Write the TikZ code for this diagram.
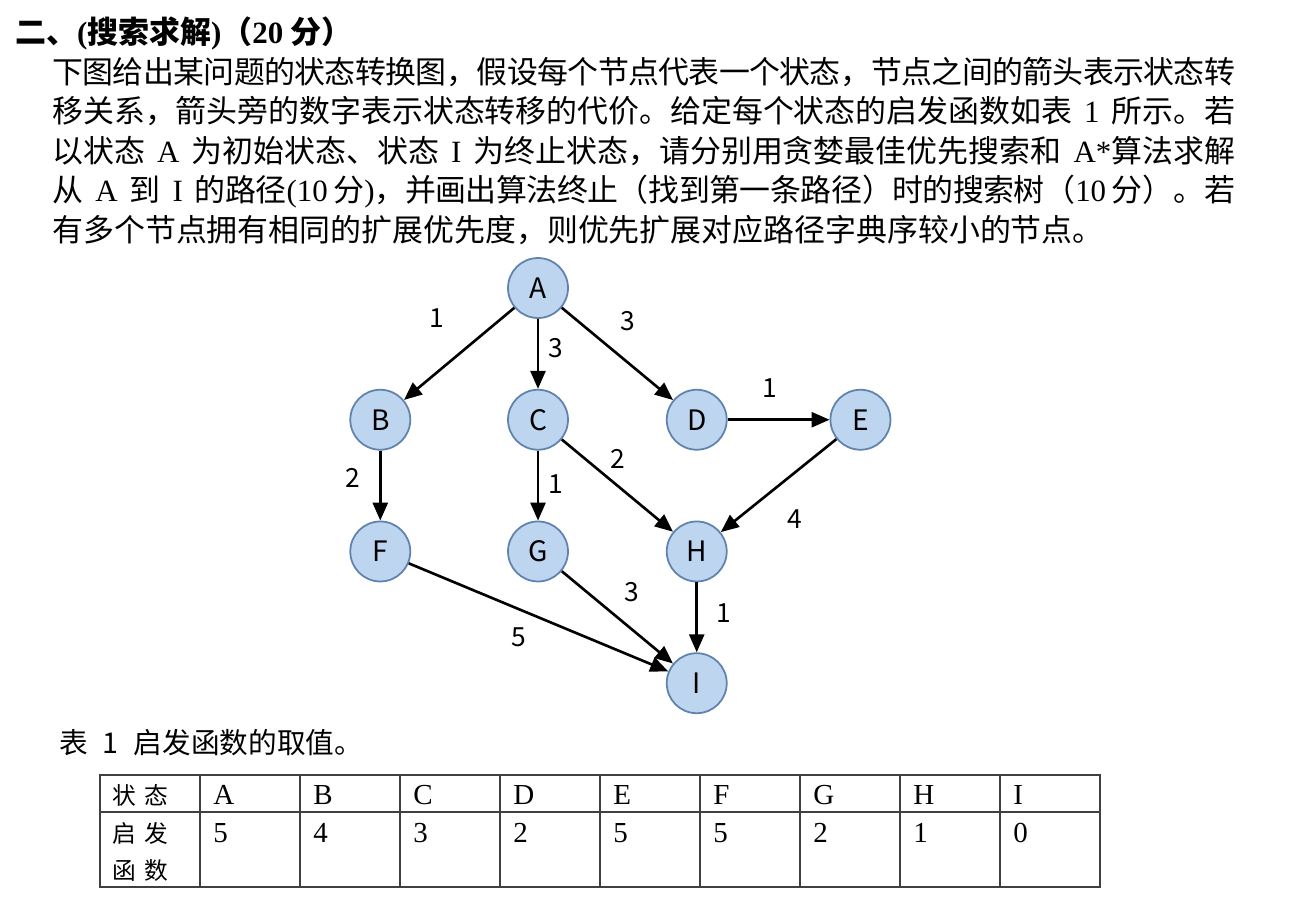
\documentclass[tikz,border=0pt]{standalone}
\usepackage{fontspec}
\usepackage{xcolor}
\usepackage{tikz}
\usetikzlibrary{arrows.meta, positioning}
\setmainfont{Liberation Serif}
\newfontfamily\cjk{Noto Sans CJK SC}
\newfontfamily\gfont{Noto Sans CJK SC}
\XeTeXlinebreaklocale "zh"
\XeTeXlinebreakskip=0pt plus 2pt minus 0.6pt
\newcommand\lat[1]{{\rmfamily #1}}
\newcommand\gap{\hskip 0.24cm plus 0.1cm\relax}
\definecolor{stfill}{HTML}{BDD5EE}
\definecolor{stline}{HTML}{5F82AE}
\begin{document}
\begin{tikzpicture}[
  x=0.02cm, y=-0.02cm,
  hd/.style={anchor=west, inner sep=0pt, font=\cjk\bfseries\fontsize{17.6}{21}\selectfont},
  body/.style={anchor=north west, inner sep=0pt, text width=23.66cm, align=justify,
               font=\cjk\fontsize{17.6}{22.4}\selectfont},
  captxt/.style={anchor=west, inner sep=0pt, font=\cjk\fontsize{16.3}{19}\selectfont},
  cell/.style={anchor=west, inner sep=0pt, font=\rmfamily\fontsize{16.5}{19}\selectfont},
  ccell/.style={anchor=west, inner sep=0pt, font=\cjk\fontsize{13.5}{16}\selectfont},
  st/.style={circle, draw=stline, fill=stfill, line width=1pt, minimum size=1.2cm,
             inner sep=0pt, font=\gfont\fontsize{16}{18}\selectfont},
  w/.style={inner sep=0pt, font=\gfont\fontsize{15}{17}\selectfont},
  ar/.style={-{Triangle[length=3.6mm, width=3mm]}, line width=1.5pt},
  tline/.style={draw=black!75, line width=0.9pt}
]
\useasboundingbox (0,0) rectangle (1300,914);
% question text
\node[hd] (title) at (15,33)
  {二、\lat{(}搜索求解\lat{)}（\lat{20} 分）};
\node[body] (para) at (52,57) {\tolerance=9999
  下图给出某问题的状态转换图，假设每个节点代表一个状态，节点之间的箭头表示状态转\linebreak
  移关系，箭头旁的数字表示状态转移的代价。给定每个状态的启发函数如表\gap\lat{1}\gap 所示。若\linebreak
  以状态\gap\lat{A}\gap 为初始状态、状态\gap\lat{I}\gap 为终止状态，请分别用贪婪最佳优先搜索和\gap\lat{A*}算法求解\linebreak
  从\gap\lat{A}\gap 到\gap\lat{I}\gap 的路径\lat{(10} 分\lat{)}，并画出算法终止（找到第一条路径）时的搜索树（\lat{10} 分）。若\linebreak
  有多个节点拥有相同的扩展优先度，则优先扩展对应路径字典序较小的节点。};

% state graph
\node[st] (A) at (538,288) {A};
\node[st, below=1.4cm of A] (C) {C};
\node[st, left=1.92cm of C] (B) {B};
\node[st, right=1.94cm of C] (D) {D};
\node[st, right=2.04cm of D] (E) {E};
\node[st, below=1.4cm of B] (F) {F};
\node[st, below=1.4cm of C] (G) {G};
\node[st, below=1.4cm of D] (H) {H};
\node[st, below=1.4cm of H] (I) {I};
\draw[ar] (A) -- node[w, shift={(-22,-36)}] {1} (B);
\draw[ar] (A) -- node[w, shift={(18,-6)}] {3} (C);
\draw[ar] (A) -- node[w, shift={(10,-33)}] {3} (D);
\draw[ar] (D) -- node[w, shift={(-9,-32)}] {1} (E);
\draw[ar] (B) -- node[w, shift={(-27,-8)}] {2} (F);
\draw[ar] (C) -- node[w, shift={(18,-2)}] {1} (G);
\draw[ar] (C) -- node[w, shift={(0,-27)}] {2} (H);
\draw[ar] (E) -- node[w, shift={(16,33)}] {4} (H);
\draw[ar] (G) -- node[w, shift={(14,-25)}] {3} (I);
\draw[ar] (H) -- node[w, shift={(27,-4)}] {1} (I);
\draw[ar] (F) -- node[w, shift={(-20,20)}] {5} (I);

% table 1
\node[captxt] (tcap) at (59,743) {表\hskip0.3cm 1\hskip0.3cm 启发函数的取值。};
\draw[tline] (100,775) rectangle (1100,887);
\draw[tline] (100,812) -- (1100,812);
\foreach \k in {1,...,9}
  \draw[tline] (100+100*\k,775) -- (100+100*\k,887);
\node[ccell] (hs) at (112,795) {状\hskip0.16cm 态};
\node[ccell] (hh1) at (112,833) {启\hskip0.16cm 发};
\node[ccell] (hh2) at (112,870) {函\hskip0.16cm 数};
\foreach \s [count=\k] in {A,B,C,D,E,F,G,H,I}
  \node[cell] (s\k) at (100+100*\k+13,795) {\s};
\foreach \v [count=\k] in {5,4,3,2,5,5,2,1,0}
  \node[cell] (h\k) at (100+100*\k+13,833) {\v};
\end{tikzpicture}
\end{document}
